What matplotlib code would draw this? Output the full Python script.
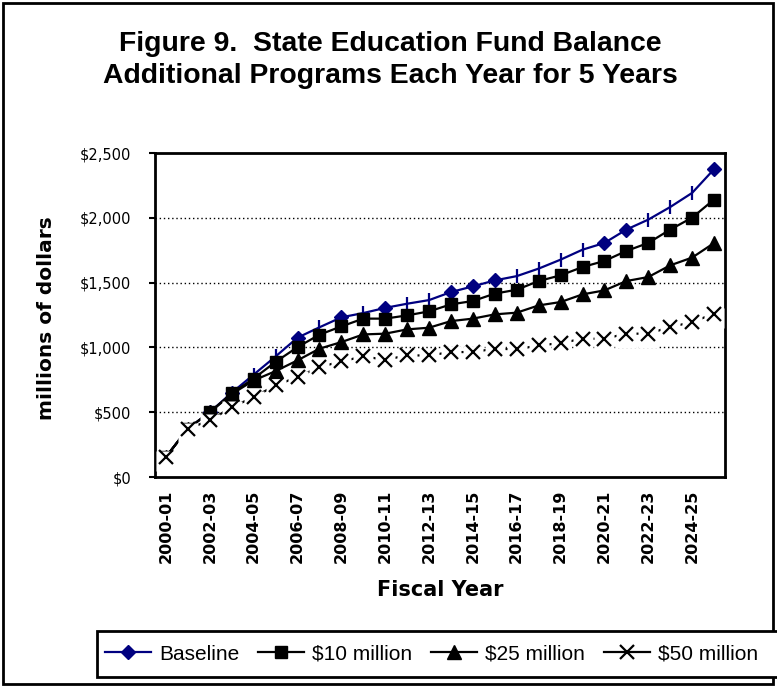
import numpy as np
import matplotlib
matplotlib.use("Agg")
import matplotlib.pyplot as plt
from matplotlib.lines import Line2D
from matplotlib.patches import Rectangle
from matplotlib.path import Path

# ---------------- data ----------------
years = ["2000-01", "2001-02", "2002-03", "2003-04", "2004-05", "2005-06", "2006-07",
         "2007-08", "2008-09", "2009-10", "2010-11", "2011-12", "2012-13", "2013-14",
         "2014-15", "2015-16", "2016-17", "2017-18", "2018-19", "2019-20", "2020-21",
         "2021-22", "2022-23", "2023-24", "2024-25", "2025-26"]
baseline = [155, 373, 500, 650, 790, 930, 1075, 1155, 1232, 1265, 1305, 1337, 1365,
            1427, 1471, 1517, 1550, 1608, 1677, 1754, 1806, 1909, 1986, 2083, 2192, 2375]
m10 = [155, 373, 500, 645, 760, 888, 1002, 1098, 1162, 1222, 1222, 1247, 1278,
       1332, 1358, 1415, 1445, 1512, 1556, 1620, 1667, 1744, 1806, 1909, 2001, 2141]
m25 = [155, 373, 500, 640, 745, 817, 900, 990, 1041, 1100, 1106, 1139, 1152,
       1203, 1222, 1255, 1268, 1324, 1350, 1409, 1440, 1512, 1543, 1633, 1693, 1805]
m50 = [155, 373, 436, 539, 616, 707, 771, 848, 892, 930, 905, 938, 938,
       964, 964, 990, 985, 1015, 1033, 1067, 1067, 1106, 1106, 1157, 1195, 1260]
series_names = ["Baseline", "$10 million", "$25 million", "$50 million"]
ytick_vals = [0, 500, 1000, 1500, 2000, 2500]
ytick_labels = ["$0", "$500", "$1,000", "$1,500", "$2,000", "$2,500"]

NAVY = "#000080"
W, H = 777, 687

fig = plt.figure(figsize=(W / 100, H / 100), dpi=100)
ax = fig.add_axes([155 / W, 1 - 477 / H, 570 / W, 324 / H])

x = np.arange(len(years))

# gridlines
for v in ytick_vals[1:-1]:
    ax.axhline(v, color="black", lw=1.0, ls=(0, (1, 2)), zorder=1)

# Baseline
diamond_idx = [2, 3, 6, 8, 10, 13, 14, 15, 20, 21, 25]
tick_idx = [4, 5, 7, 9, 11, 12, 16, 17, 18, 19, 22, 23, 24]
ax.plot(x, baseline, color=NAVY, lw=1.6, zorder=3)
ax.plot(x, baseline, ls="none", marker="D", ms=7.6, color=NAVY, markevery=diamond_idx, zorder=3)
ax.plot(x, baseline, ls="none", marker="|", ms=9.5, mew=1.6, color=NAVY, markevery=tick_idx, zorder=3)

# $10 million
ax.plot(x, m10, color="black", lw=1.6, marker="s", ms=9.2, zorder=4)
# $25 million
ax.plot(x, m25, color="black", lw=1.6, marker="^", ms=9.8, zorder=5)
# $50 million: line, white marker background, X glyph
ax.plot(x, m50, color="black", lw=1.6, zorder=6)
box = Path([(-10, -14), (10, -14), (10, 6), (-10, 6), (-10, -14)],
           [Path.MOVETO, Path.LINETO, Path.LINETO, Path.LINETO, Path.CLOSEPOLY])
ax.plot(x, m50, ls="none", marker=box, ms=20.2, mfc="white", mec="none", zorder=6.5)
ax.plot(x, m50, ls="none", marker="x", ms=9.4, mew=1.6, color="black", zorder=7)

ax.set_xlim(-0.5, len(years) - 0.5)
ax.set_ylim(0, 2500)
ax.set_yticks(ytick_vals)
ax.set_yticklabels(ytick_labels, fontfamily="DejaVu Sans", fontsize=10.5)
ax.set_xticks(x[::2])
ax.set_xticklabels(years[::2], rotation=90, fontfamily="DejaVu Sans",
                   fontweight="bold", fontsize=11.5)
ax.tick_params(axis="x", length=0, pad=9)
ax.tick_params(axis="y", length=4, width=1.5, direction="out", pad=13)
for s in ax.spines.values():
    s.set_linewidth(2)
    s.set_color("black")

# titles and labels
fig.text(390 / W, 1 - 44 / H, "Figure 9.  State Education Fund Balance",
         ha="center", va="center", fontsize=20.4, fontweight="bold", family="Liberation Sans")
fig.text(390 / W, 1 - 76 / H, "Additional Programs Each Year for 5 Years",
         ha="center", va="center", fontsize=20.4, fontweight="bold", family="Liberation Sans")
fig.text(47 / W, 1 - 318 / H, "millions of dollars", rotation=90, ha="center", va="center",
         fontsize=14.5, fontweight="bold", family="DejaVu Sans")
fig.text(440 / W, 1 - 590 / H, "Fiscal Year", ha="center", va="center",
         fontsize=15, fontweight="bold", family="DejaVu Sans")

# outer frame
fig.patches.append(Rectangle((3 / W, 3 / H), 770 / W, 681 / H, transform=fig.transFigure,
                             fill=False, edgecolor="black", lw=2))
# legend frame
fig.patches.append(Rectangle((97 / W, 1 - 677 / H), 690 / W, 46 / H, transform=fig.transFigure,
                             facecolor="white", edgecolor="black", lw=2, zorder=5))

handles = [
    Line2D([], [], color=NAVY, lw=1.6, marker="D", ms=7.6),
    Line2D([], [], color="black", lw=1.6, marker="s", ms=9.2),
    Line2D([], [], color="black", lw=1.6, marker="^", ms=9.8),
    Line2D([], [], color="black", lw=1.6, marker="x", ms=9.4, mew=1.6),
]
leg = fig.legend(handles, series_names, loc="center left", bbox_to_anchor=(105 / W, 1 - 654 / H),
                 ncol=4, frameon=False, prop={"family": "Liberation Sans", "size": 15},
                 handlelength=2.2, handletextpad=0.4, columnspacing=0.9, borderpad=0,
                 borderaxespad=0)
leg.set_zorder(6)

fig.savefig("out.png", dpi=100)
